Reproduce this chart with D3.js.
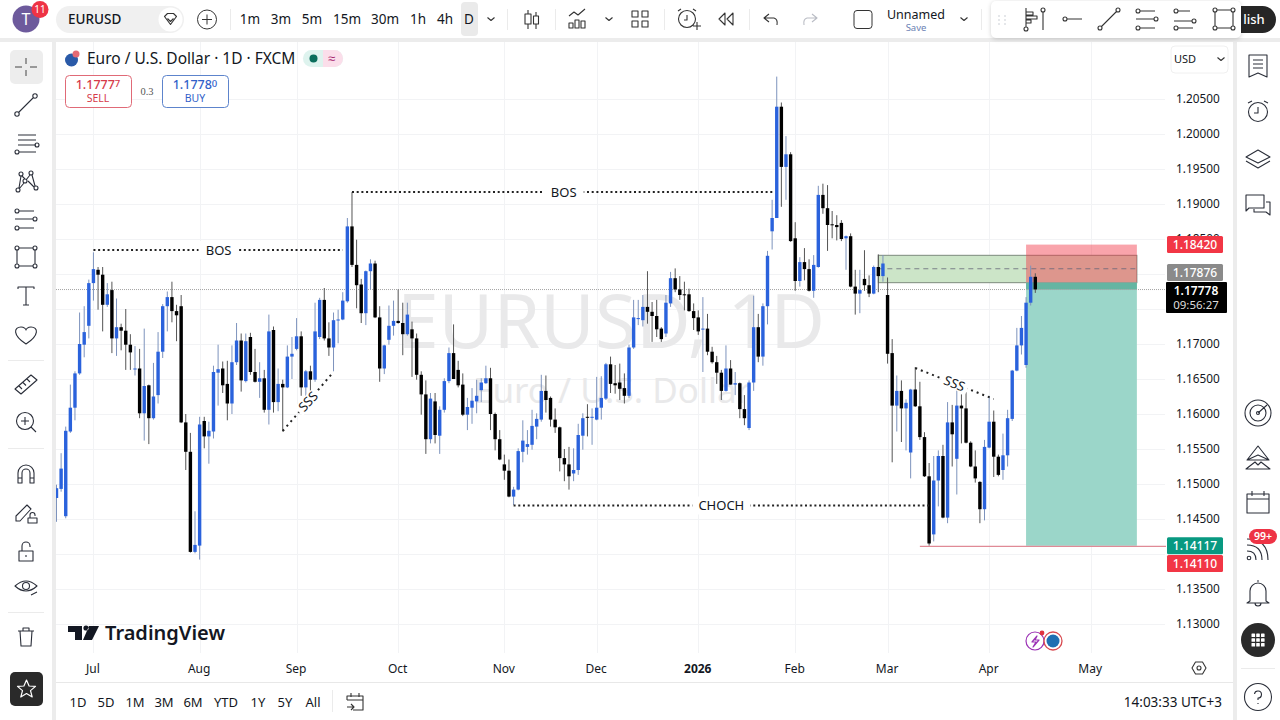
<!DOCTYPE html>
<html>
<head>
<meta charset="utf-8">
<script src="https://cdn.jsdelivr.net/npm/d3@7"></script>
<style>
  html, body { margin: 0; padding: 0; background: #fff; overflow: hidden; }
  svg { display: block; }
  text { font-family: "Noto Sans", sans-serif; fill: #131722; }
</style>
</head>
<body>
<div id="chart"></div>
<script>
// EURUSD daily candles
const opens = [
  1.1480,1.1493,1.1454,1.1575,1.1609,1.1658,1.1699,1.1726,1.1787,1.1806,
  1.1799,1.1756,1.1777,1.1708,1.1724,1.1719,1.1699,1.1664,1.1665,1.1601,
  1.1641,1.1594,1.1627,1.1689,1.1754,1.1767,1.1747,1.1754,1.1588,1.1546,
  1.1403,1.1412,1.1590,1.1568,1.1575,1.1659,1.1665,1.1643,1.1615,1.1674,
  1.1705,1.1647,1.1710,1.1660,1.1646,1.1651,1.1606,1.1720,1.1617,1.1643,
  1.1638,1.1682,1.1693,1.1711,1.1638,1.1661,1.1649,1.1710,1.1763,1.1708,
  1.1695,1.1734,1.1735,1.1761,1.1868,1.1813,1.1785,1.1744,1.1804,1.1815,
  1.1738,1.1665,1.1706,1.1726,1.1733,1.1730,1.1714,1.1721,1.1708,1.1656,
  1.1628,1.1564,1.1618,1.1569,1.1606,1.1647,1.1687,1.1663,1.1642,1.1599,
  1.1609,1.1618,1.1634,1.1644,1.1651,1.1600,1.1564,1.1528,1.1519,1.1482,
  1.1492,1.1546,1.1553,1.1556,1.1582,1.1592,1.1633,1.1623,1.1592,1.1581,
  1.1537,1.1528,1.1515,1.1520,1.1569,1.1596,1.1595,1.1592,1.1609,1.1622,
  1.1671,1.1644,1.1645,1.1637,1.1626,1.1695,1.1736,1.1734,1.1753,1.1746,
  1.1740,1.1722,1.1715,1.1758,1.1794,1.1778,1.1771,1.1771,1.1747,1.1738,
  1.1721,1.1722,1.1689,1.1674,1.1659,1.1633,1.1665,1.1642,1.1644,1.1607,
  1.1580,1.1645,1.1724,1.1682,1.1754,1.1861,1.1880,1.2039,1.1953,1.1971,
  1.1851,1.1790,1.1817,1.1807,1.1776,1.1810,1.1913,1.1894,1.1871,1.1870,
  1.1873,1.1851,1.1854,1.1782,1.1772,1.1793,1.1784,1.1772,1.1810,1.1797,
  1.1770,1.1687,1.1612,1.1633,1.1608,1.1545,1.1635,1.1611,1.1567,1.1511,
  1.1428,1.1505,1.1540,1.1452,1.1588,1.1536,1.1612,1.1608,1.1559,1.1525,
  1.1503,1.1464,1.1552,1.1589,1.1539,1.1520,1.1541,1.1593,1.1662,1.1698,
  1.1670,1.1759,1.1796];
const closes = [
  1.1494,1.1522,1.1576,1.1609,1.1658,1.1700,1.1717,1.1787,1.1807,1.1799,
  1.1756,1.1771,1.1708,1.1724,1.1719,1.1699,1.1688,1.1665,1.1601,1.1640,
  1.1594,1.1625,1.1689,1.1754,1.1767,1.1747,1.1741,1.1588,1.1546,1.1403,
  1.1413,1.1585,1.1568,1.1576,1.1660,1.1664,1.1641,1.1615,1.1674,1.1705,
  1.1648,1.1704,1.1660,1.1646,1.1651,1.1606,1.1718,1.1617,1.1643,1.1638,
  1.1682,1.1686,1.1711,1.1638,1.1661,1.1649,1.1718,1.1763,1.1708,1.1695,
  1.1734,1.1735,1.1762,1.1868,1.1813,1.1784,1.1744,1.1804,1.1815,1.1738,
  1.1665,1.1698,1.1726,1.1733,1.1730,1.1714,1.1742,1.1708,1.1656,1.1628,
  1.1564,1.1622,1.1570,1.1606,1.1647,1.1687,1.1650,1.1641,1.1599,1.1610,
  1.1619,1.1626,1.1645,1.1651,1.1600,1.1564,1.1535,1.1519,1.1482,1.1492,
  1.1547,1.1562,1.1557,1.1583,1.1593,1.1633,1.1620,1.1592,1.1581,1.1537,
  1.1528,1.1511,1.1520,1.1570,1.1594,1.1595,1.1596,1.1609,1.1623,1.1671,
  1.1643,1.1641,1.1636,1.1626,1.1695,1.1738,1.1737,1.1753,1.1746,1.1740,
  1.1721,1.1707,1.1759,1.1794,1.1778,1.1770,1.1770,1.1747,1.1737,1.1718,
  1.1722,1.1689,1.1674,1.1659,1.1633,1.1665,1.1642,1.1644,1.1607,1.1594,
  1.1645,1.1724,1.1682,1.1754,1.1826,1.1880,1.2039,1.1953,1.1971,1.1847,
  1.1790,1.1817,1.1807,1.1776,1.1813,1.1913,1.1894,1.1870,1.1870,1.1867,
  1.1850,1.1854,1.1782,1.1772,1.1777,1.1784,1.1772,1.1810,1.1797,1.1815,
  1.1686,1.1612,1.1633,1.1608,1.1616,1.1635,1.1611,1.1567,1.1511,1.1415,
  1.1505,1.1540,1.1452,1.1588,1.1571,1.1612,1.1608,1.1559,1.1525,1.1508,
  1.1464,1.1553,1.1589,1.1539,1.1513,1.1541,1.1594,1.1662,1.1698,1.1723,
  1.1759,1.1796,1.1778];
const highs = [
  1.1499,1.1544,1.1582,1.1642,1.1661,1.1745,1.1754,1.1792,1.1831,1.1810,
  1.1810,1.1787,1.1789,1.1765,1.1729,1.1750,1.1714,1.1697,1.1693,1.1722,
  1.1642,1.1673,1.1717,1.1757,1.1775,1.1789,1.1756,1.1770,1.1600,1.1573,
  1.1461,1.1596,1.1596,1.1589,1.1669,1.1699,1.1675,1.1676,1.1698,1.1730,
  1.1715,1.1715,1.1716,1.1693,1.1674,1.1663,1.1742,1.1725,1.1665,1.1649,
  1.1698,1.1710,1.1737,1.1718,1.1663,1.1669,1.1759,1.1766,1.1780,1.1731,
  1.1745,1.1749,1.1774,1.1880,1.1917,1.1849,1.1793,1.1805,1.1821,1.1819,
  1.1754,1.1699,1.1755,1.1762,1.1778,1.1759,1.1759,1.1732,1.1715,1.1661,
  1.1648,1.1630,1.1630,1.1611,1.1651,1.1695,1.1728,1.1676,1.1658,1.1623,
  1.1637,1.1649,1.1651,1.1669,1.1666,1.1602,1.1577,1.1542,1.1535,1.1496,
  1.1551,1.1591,1.1577,1.1606,1.1601,1.1656,1.1655,1.1625,1.1608,1.1582,
  1.1550,1.1553,1.1551,1.1586,1.1601,1.1614,1.1608,1.1653,1.1654,1.1673,
  1.1682,1.1670,1.1672,1.1658,1.1699,1.1763,1.1763,1.1770,1.1804,1.1760,
  1.1763,1.1724,1.1770,1.1803,1.1808,1.1797,1.1789,1.1779,1.1758,1.1748,
  1.1767,1.1743,1.1696,1.1683,1.1663,1.1698,1.1677,1.1660,1.1645,1.1627,
  1.1648,1.1769,1.1743,1.1758,1.1833,1.1906,1.2082,1.2045,1.1997,1.1974,
  1.1874,1.1824,1.1837,1.1821,1.1827,1.1926,1.1929,1.1927,1.1890,1.1884,
  1.1877,1.1855,1.1858,1.1806,1.1806,1.1834,1.1798,1.1812,1.1828,1.1827,
  1.1795,1.1707,1.1655,1.1648,1.1621,1.1636,1.1667,1.1646,1.1574,1.1530,
  1.1540,1.1548,1.1556,1.1617,1.1613,1.1635,1.1628,1.1631,1.1561,1.1548,
  1.1504,1.1563,1.1626,1.1605,1.1542,1.1572,1.1606,1.1663,1.1723,1.1740,
  1.1767,1.1812,1.1801];
const lows = [
  1.1446,1.1489,1.1451,1.1573,1.1591,1.1656,1.1681,1.1708,1.1762,1.1749,
  1.1718,1.1753,1.1687,1.1683,1.1691,1.1663,1.1663,1.1655,1.1594,1.1562,
  1.1557,1.1592,1.1615,1.1680,1.1718,1.1731,1.1704,1.1587,1.1520,1.1402,
  1.1401,1.1392,1.1551,1.1529,1.1565,1.1612,1.1630,1.1591,1.1600,1.1670,
  1.1632,1.1645,1.1656,1.1645,1.1623,1.1602,1.1585,1.1602,1.1604,1.1575,
  1.1637,1.1650,1.1691,1.1626,1.1623,1.1632,1.1646,1.1707,1.1705,1.1683,
  1.1661,1.1701,1.1734,1.1759,1.1810,1.1751,1.1730,1.1727,1.1778,1.1737,
  1.1646,1.1657,1.1699,1.1712,1.1729,1.1684,1.1712,1.1653,1.1649,1.1599,
  1.1543,1.1558,1.1558,1.1543,1.1602,1.1644,1.1650,1.1638,1.1597,1.1577,
  1.1586,1.1601,1.1617,1.1643,1.1577,1.1548,1.1534,1.1506,1.1481,1.1470,
  1.1491,1.1531,1.1542,1.1549,1.1564,1.1589,1.1602,1.1582,1.1573,1.1518,
  1.1504,1.1492,1.1504,1.1513,1.1549,1.1568,1.1556,1.1591,1.1592,1.1620,
  1.1630,1.1629,1.1620,1.1615,1.1623,1.1693,1.1727,1.1725,1.1729,1.1703,
  1.1710,1.1703,1.1710,1.1753,1.1774,1.1763,1.1748,1.1746,1.1720,1.1713,
  1.1660,1.1684,1.1672,1.1643,1.1620,1.1632,1.1642,1.1627,1.1594,1.1584,
  1.1577,1.1633,1.1674,1.1669,1.1728,1.1835,1.1880,1.1896,1.1906,1.1846,
  1.1776,1.1782,1.1791,1.1775,1.1766,1.1809,1.1886,1.1833,1.1851,1.1848,
  1.1847,1.1806,1.1781,1.1742,1.1744,1.1776,1.1767,1.1771,1.1774,1.1789,
  1.1672,1.1531,1.1575,1.1560,1.1548,1.1508,1.1610,1.1563,1.1510,1.1412,
  1.1418,1.1468,1.1451,1.1444,1.1525,1.1485,1.1558,1.1558,1.1524,1.1502,
  1.1444,1.1448,1.1551,1.1510,1.1511,1.1506,1.1525,1.1590,1.1661,1.1685,
  1.1666,1.1755,1.1773];

const priceTicks = [1.13,1.135,1.14,1.145,1.15,1.155,1.16,1.165,1.17,1.175,1.18,1.185,1.19,1.195,1.20,1.205];
const hiddenPriceLabels = [1.14, 1.18]; // fully covered by the price tags
const monthBars = [8,31,52,74,97,117,139,160,180,202,224];
const monthLabels = ['Jul','Aug','Sep','Oct','Nov','Dec','2026','Feb','Mar','Apr','May'];
const rangeLabels = ['1D','5D','1M','3M','6M','YTD','1Y','5Y','All'];
const rangeCentres = [78,106,135,164,193,226,258,285,313];
const intervalLabels = ['1m','3m','5m','15m','30m','1h','4h','D'];
const intervalCentres = [250,281,312,347,385,418,445,469];

// price levels of the drawings
const lastPrice = 1.17778, entry = 1.17876, stop = 1.18420, target = 1.14117, lowLine = 1.14110;
const zoneTop = 1.18267, zoneMid = 1.18075;
const bosLines = [[8, 62, 1.18343, 'BOS'], [64, 155.5, 1.19171, 'BOS'], [99, 189, 1.14693, 'CHOCH']];
const sssLines = [[49, 1.15757, 60, 1.16600, -47], [186, 1.16657, 203, 1.16214, 22]];

const W = 1280, H = 720;
const svg = d3.select('#chart').append('svg').attr('width', W).attr('height', H);

const x = d3.scaleLinear().domain([0, 212]).range([56.5, 1035.3]);
const y = d3.scaleLinear().domain([1.13, 1.205]).range([624, 99]);
const fmt = d3.format('.5f');

const rect = (p, x0, y0, w, h, fill, extra = {}) => {
  const r = p.append('rect').attr('x', x0).attr('y', y0).attr('width', w).attr('height', h).attr('fill', fill);
  Object.entries(extra).forEach(([k, v]) => r.attr(k, v));
  return r;
};
const label = (p, x0, y0, s, size, anchor = 'middle', fill = '#131722', weight = 400) =>
  p.append('text').attr('x', x0).attr('y', y0).attr('dy', '.35em').attr('text-anchor', anchor)
    .attr('font-size', size).attr('font-weight', weight).style('fill', fill).text(s);

// page gutters
rect(svg, 0, 0, W, H, '#ececec');
rect(svg, 0, 0, W, 38, '#fff');
rect(svg, 0, 42, 52, H - 42, '#fff');
rect(svg, 56, 42, 1177, H - 42, '#fff');
rect(svg, 1237, 42, 43, H - 42, '#fff');

const pane = svg.append('g');
pane.append('clipPath').attr('id', 'paneClip').append('rect').attr('x', 56).attr('y', 42).attr('width', 1110).attr('height', 611);

// grid
const grid = pane.append('g').attr('stroke', '#f2f3f5').attr('stroke-width', 1);
grid.selectAll('line.h').data(priceTicks).join('line').attr('class', 'h')
  .attr('x1', 56).attr('x2', 1165).attr('y1', d => Math.round(y(d)) + .5).attr('y2', d => Math.round(y(d)) + .5);
grid.selectAll('line.v').data(monthBars).join('line').attr('class', 'v')
  .attr('x1', d => Math.round(x(d)) + .5).attr('x2', d => Math.round(x(d)) + .5).attr('y1', 42).attr('y2', 653);

// watermark
label(pane, 611, 322, 'EURUSD, 1D', 75, 'middle', '#e9e9ea');
label(pane, 612, 391, 'Euro / U.S. Dollar', 35, 'middle', '#e9e9ea');

// zones of the position tool
const zoneX0 = x(178), toolX0 = x(210), toolX1 = x(234);
rect(pane, zoneX0, y(zoneTop), toolX1 - zoneX0, y(entry) - y(zoneTop), '#cce5c8', { stroke: '#7d8a7d', 'stroke-width': 1 });
rect(pane, toolX0, y(stop), toolX1 - toolX0, y(entry) - y(stop), 'rgba(242,54,69,.45)');
rect(pane, toolX0, y(entry), toolX1 - toolX0, y(target) - y(entry), '#9bd6c9');
rect(pane, toolX0, y(entry), toolX1 - toolX0, y(lastPrice) - y(entry), '#65b5a2');
pane.append('line').attr('x1', zoneX0).attr('x2', toolX1).attr('y1', y(zoneMid)).attr('y2', y(zoneMid))
  .attr('stroke', '#667').attr('stroke-width', .8).attr('stroke-dasharray', '5 4');

// last price line and the low line
pane.append('line').attr('x1', 56).attr('x2', 1166).attr('y1', y(lastPrice)).attr('y2', y(lastPrice))
  .attr('stroke', '#a5a5a5').attr('stroke-dasharray', '1 1');
pane.append('line').attr('x1', x(187)).attr('x2', 1166).attr('y1', y(lowLine)).attr('y2', y(lowLine))
  .attr('stroke', '#e08a96').attr('stroke-width', 1.2);

// candles
const candles = opens.map((o, i) => ({ i, o, c: closes[i], h: highs[i], l: lows[i] }));
const isUp = d => d.c >= d.o;
const candleG = pane.append('g').attr('clip-path', 'url(#paneClip)');
candleG.selectAll('line').data(candles).join('line')
  .attr('x1', d => x(d.i)).attr('x2', d => x(d.i)).attr('y1', d => y(d.h)).attr('y2', d => y(d.l))
  .attr('stroke', d => isUp(d) ? '#7d93bd' : '#555').attr('stroke-width', 1);
candleG.selectAll('rect').data(candles).join('rect')
  .attr('x', d => x(d.i) - 1.7).attr('width', 3.4)
  .attr('y', d => y(Math.max(d.o, d.c)))
  .attr('height', d => Math.max(1, Math.abs(y(d.o) - y(d.c))))
  .attr('fill', d => isUp(d) ? '#2a62dc' : '#000');

// BOS / CHOCH lines
bosLines.forEach(([a, b, p, s]) => {
  pane.append('line').attr('x1', x(a)).attr('x2', x(b)).attr('y1', y(p)).attr('y2', y(p))
    .attr('stroke', '#222').attr('stroke-width', 2).attr('stroke-dasharray', '2 2.7');
  const xm = (x(a) + x(b)) / 2 + (s === 'BOS' ? .5 : 0);
  const gap = s === 'CHOCH' ? 58 : 40;
  rect(pane, xm - gap / 2, y(p) - 9, gap, 18, '#fff');
  label(pane, xm, y(p), s, 13);
});
sssLines.forEach(([a, p, b, q, rot]) => {
  pane.append('line').attr('x1', x(a)).attr('x2', x(b)).attr('y1', y(p)).attr('y2', y(q))
    .attr('stroke', '#222').attr('stroke-width', 2).attr('stroke-dasharray', '2 4');
  const xm = (x(a) + x(b)) / 2, ym = (y(p) + y(q)) / 2;
  rect(pane, xm - 14, ym - 6, 28, 12, '#fff', { transform: `rotate(${rot} ${xm} ${ym})` });
  label(pane, 0, 0, 'SSS', 13).attr('transform', `translate(${xm},${ym}) rotate(${rot})`);
});

// price axis
const priceAxis = svg.append('g').attr('transform', 'translate(1165,0)')
  .call(d3.axisRight(y).tickValues(priceTicks.filter(d => !hiddenPriceLabels.includes(d)))
    .tickFormat(fmt).tickSize(0).tickPadding(11));
priceAxis.select('.domain').remove();
priceAxis.selectAll('text').attr('font-size', 11.8).attr('font-family', '"Noto Sans", sans-serif').style('fill', '#131722');
priceAxis.selectAll('.tick').attr('transform', d => `translate(0,${y(d) + .5})`);

// time axis
const timeAxis = svg.append('g').attr('transform', 'translate(-1,664)')
  .call(d3.axisBottom(x).tickValues(monthBars).tickFormat((d, i) => monthLabels[i]).tickSize(0).tickPadding(0));
timeAxis.select('.domain').remove();
timeAxis.selectAll('text').attr('font-size', 12).attr('dy', '.71em').attr('font-family', '"Noto Sans", sans-serif')
  .style('fill', '#131722').attr('font-weight', (d, i) => monthLabels[i] === '2026' ? 700 : 400);
svg.append('line').attr('x1', 56).attr('x2', 1233).attr('y1', 682.5).attr('y2', 682.5).attr('stroke', '#e8e8e8');

// price tags
const tag = (cy, fill, s) => {
  rect(svg, 1167, cy - 8.5, 56, 17, fill, { rx: 1.5 });
  label(svg, 1195, cy, s, 12, 'middle', '#fff', 500);
};
tag(y(stop), '#f23645', fmt(stop));
tag(272.5, '#8a8a8a', fmt(entry));
tag(y(target), '#089981', fmt(target));
tag(563.5, '#f23645', fmt(lowLine));
rect(svg, 1166, 282, 61, 31, '#000', { rx: 1 });
label(svg, 1196, 290.5, fmt(lastPrice), 12, 'middle', '#fff', 600);
label(svg, 1196, 304.5, '09:56:27', 11.5, 'middle', '#ddd');

// ---- chrome ----
const ring = (cx, cy, r) => `M${cx - r},${cy}a${r},${r} 0 1,0 ${2 * r},0a${r},${r} 0 1,0 ${-2 * r},0`;
const icon = (cx, cy, d, stroke = '#2a2e39', sw = 1.1) =>
  svg.append('path').attr('transform', `translate(${cx},${cy})`).attr('d', d)
    .attr('fill', 'none').attr('stroke', stroke).attr('stroke-width', sw).attr('stroke-linejoin', 'round');
const sep = (x1, y1, x2, y2) => svg.append('line').attr('x1', x1).attr('y1', y1).attr('x2', x2).attr('y2', y2).attr('stroke', '#ebebeb');
const chevron = (cx, cy) => icon(cx, cy, 'M-3.5,-1.5L0,1.5L3.5,-1.5', '#333', 1.1);

// top bar
svg.append('circle').attr('cx', 26).attr('cy', 19).attr('r', 13.5).attr('fill', '#6d5a9c');
label(svg, 26, 19, 'T', 16, 'middle', '#fff');
svg.append('circle').attr('cx', 40).attr('cy', 9.5).attr('r', 8.5).attr('fill', '#ee3345');
label(svg, 40, 9.5, '11', 10, 'middle', '#fff');
rect(svg, 56, 6, 128, 27, '#f0f0f0', { rx: 13.5 });
label(svg, 68, 19.5, 'EURUSD', 13.5, 'start', '#131722', 500);
svg.append('circle').attr('cx', 170.5).attr('cy', 19.5).attr('r', 12).attr('fill', '#fff');
icon(170.5, 19.5, 'M-6,-3L-3,-6L3,-6L6,-3L0,5ZM-3,-1L0,2L3,-1', '#333', 1.1);
icon(207, 19.5, ring(0, 0, 9.5) + 'M-5,0L5,0M0,-5L0,5', '#333', 1);
sep(230.5, 9, 230.5, 30);
rect(svg, 461, 2, 17, 34, '#eaeaea', { rx: 4 });
intervalLabels.forEach((s, i) => label(svg, intervalCentres[i], 19.5, s, 13.5));
chevron(491, 19);
sep(507.5, 9, 507.5, 30);
icon(532, 19, 'M-4,-9L-4,-5M-7,-5h6v10h-6zM-4,5L-4,10M4,-7L4,-3M1.5,-3h5v8h-5zM4,5L4,10', '#333');
sep(555.5, 9, 555.5, 30);
icon(578, 19, 'M-9,-3L-4,-7L0,-4L7,-10M-9,9v-5h4v5zM-3,9v-8h4v8zM3,9v-7h4v7z', '#333');
chevron(609, 19);
icon(640, 19, 'M-8,-8h6v6h-6zM2,-8h6v6h-6zM-8,2h6v6h-6zM2,2h6v6h-6z', '#333');
sep(664.5, 9, 664.5, 30);
icon(687, 19, ring(0, 0, 8.5) + 'M0,-4L0,1L-3,1M-9,-8L-6,-10M9,-8L6,-10M6,7h8M10,3v8', '#333');
icon(726, 19, 'M-1,-6L-7,0L-1,6ZM7,-6L1,0L7,6Z', '#333');
sep(749.5, 9, 749.5, 30);
icon(771, 19, 'M-2,-5L-7,-1L-2,3M-7,-1L3,-1Q7,0 6,6', '#333');
icon(810, 19, 'M2,-5L7,-1L2,3M7,-1L-3,-1Q-7,0 -6,6', '#b9bcc4');
rect(svg, 854, 10.5, 18, 18, 'none', { stroke: '#333', rx: 3 });
label(svg, 916, 15, 'Unnamed', 12.5);
label(svg, 916, 28, 'Save', 9.5, 'middle', '#6a7fb3');
chevron(964, 19);
sep(981.5, 9, 981.5, 30);

// floating drawings toolbar
rect(svg, 1222, 6, 54, 27, '#262626', { rx: 13.5 });
label(svg, 1254, 19.5, 'lish', 13, 'middle', '#fff', 500);
rect(svg, 991, 1, 250, 37, '#fff', { rx: 5, style: 'filter:drop-shadow(0 1px 2px rgba(0,0,0,.18))' });
svg.append('g').attr('fill', '#c5c8cf').selectAll('circle').data([[999, 16], [1005, 16], [999, 20], [1005, 20], [999, 24], [1005, 24]])
  .join('circle').attr('cx', d => d[0]).attr('cy', d => d[1]).attr('r', .8);
icon(1026, 19, ring(0, 10, 2) + 'M0,-11L0,8M0,-7h7v3h-7M0,-3h11v3h-11M0,1h5v3h-5', '#333');
icon(1043, 19, ring(0, -9, 2) + 'M0,-7L0,11', '#333');
icon(1072, 19, ring(-7, 0, 2) + 'M-5,0L10,0', '#333');
icon(1109, 19, ring(-9, 9, 2) + 'M-7.5,7.5L7.5,-7.5' + ring(9, -9, 2), '#333');
icon(1147, 19, ring(-9, -8, 2) + 'M-7,-8h15' + ring(9, 0, 2) + 'M-11,0h18' + ring(-9, 9, 2) + 'M-7,9h15', '#333');
icon(1185, 19, ring(-9, -8, 2) + 'M-7,-8h12' + ring(9, 2, 2) + 'M-11,2h18' + ring(-9, 9, 2) + 'M-7,9h15', '#333');
icon(1224, 19, ring(-9, -9, 2) + ring(9, -9, 2) + ring(-9, 9, 2) + ring(9, 9, 2) + 'M-7,-9h14M-7,9h14M-9,-7v14M9,-7v14', '#333');

// legend
svg.append('circle').attr('cx', 71.5).attr('cy', 60).attr('r', 6.5).attr('fill', '#2a5aa8');
svg.append('circle').attr('cx', 76).attr('cy', 54).attr('r', 3.5).attr('fill', '#e46a74');
label(svg, 87, 59, 'Euro / U.S. Dollar · 1D · FXCM', 15.5, 'start');
rect(svg, 303, 50, 40, 17, '#def3ee', { rx: 8.5 });
svg.append('path').attr('d', 'M323,50h11.5a8.5,8.5 0 0 1 0,17h-11.5z').attr('fill', '#fbdeea');
svg.append('circle').attr('cx', 313.5).attr('cy', 58.5).attr('r', 4).attr('fill', '#0a6e5c');
label(svg, 331.5, 58, '≈', 13, 'middle', '#a6246d');
rect(svg, 65.5, 75.5, 66, 32, '#fff', { stroke: '#e06a77', rx: 4 });
label(svg, 98, 85, '1.1777', 12.5, 'middle', '#d63a4a', 500).append('tspan').attr('font-size', 9.5).attr('dy', '-2').text('7');
label(svg, 98, 98, 'SELL', 10.5, 'middle', '#d63a4a');
label(svg, 147, 91, '0.3', 10.5, 'middle', '#555').style('font-family', '"Liberation Serif", serif');
rect(svg, 162.5, 75.5, 66, 32, '#fff', { stroke: '#5d84cc', rx: 4 });
label(svg, 195, 85, '1.1778', 12.5, 'middle', '#3161c9', 500).append('tspan').attr('font-size', 9.5).attr('dy', '-2').text('0');
label(svg, 195, 98, 'BUY', 10.5, 'middle', '#3161c9');

// currency selector
rect(svg, 1171, 46, 57, 27, '#fff', { stroke: '#f0f0f0', rx: 4 });
label(svg, 1174, 59, 'USD', 11, 'start');
chevron(1221, 59);

// left toolbar
rect(svg, 10, 50, 33, 34, '#ededed', { rx: 5 });
icon(26, 67, 'M0,-9L0,-3M0,3L0,9M-11,0L-4,0M4,0L11,0', '#444', 1);
icon(26, 105, ring(-9, 9, 2.2) + 'M-7.5,7.5L7.5,-7.5' + ring(9, -9, 2.2));
icon(26, 144, 'M-8,-9h18M-8,-4h18M-8,1h18' + ring(-9, 8, 2) + 'M-7,8h17' + ring(11, 1, 2));
icon(26, 181, ring(-8, 9, 2) + ring(-5, -7, 2) + ring(-1, 0, 2) + ring(5, -8, 2) + ring(10, 7, 2) + 'M-7,7L-5,-5M-4,-5L-1,-2M-7,8L-2,2M0,-1L4,-6M2,0L8,6M6,-6L9,5');
icon(26, 219, ring(-9, -8, 2) + 'M-7,-8h15' + ring(9, 0, 2) + 'M-11,0h18' + ring(-9, 9, 2) + 'M-7,9h15');
icon(26, 257, ring(-9, -9, 2) + ring(9, -9, 2) + ring(-9, 9, 2) + ring(9, 9, 2) + 'M-7,-9h14M-7,9h14M-9,-7v14M9,-7v14');
icon(26, 296, 'M-8,-7L-8,-9L8,-9L8,-7M0,-9L0,9M-3,9L3,9');
icon(26, 335, 'M0,9C-14,0 -12,-8 -5,-8C-2,-8 0,-6 0,-5C0,-6 2,-8 5,-8C12,-8 14,0 0,9Z');
sep(8, 360.5, 44, 360.5);
icon(26, 384, 'M-11,5L5,-9L11,-4L-5,10ZM-7,2L-4,5M-3,-1.5L-0,1.5M1,-5L4,-2', '#2a2e39');
icon(26, 422, ring(-1, -1, 8.5) + 'M5,5L10,10M-5,-1h8M-1,-5v8');
sep(8, 448.5, 44, 448.5);
icon(26, 474, 'M-8,9V-1A8,8 0 0 1 8,-1V9H4V-1A4,4 0 0 0 -4,-1V9ZM-8,4H-4M4,4H8');
icon(26, 513, 'M-10,8L-10,3L1,-8L5,-4L-6,8ZM2,10v-5h9v5zM4,5v-3a2.5,2.5 0 0 1 5,0v1');
icon(26, 551, 'M-7,10V0H7V10ZM-4,0V-5A4,4 0 0 1 4,-5V-4M0,4v2');
icon(26, 586, 'M-11,0Q0,-10 11,0Q0,10 -11,0Z' + ring(0, 0, 3.5) + 'M5,9L11,6');
sep(8, 612.5, 44, 612.5);
icon(26, 637, 'M-8,-6h16M-6,-6L-5,9H5L6,-6M-3,-6V-9H3V-6');
rect(svg, 10, 672, 33, 34, '#2a2a2a', { rx: 5 });
icon(26.5, 689, 'M0,-9L2.6,-3L9,-2.6L4,1.6L5.7,8L0,4.5L-5.7,8L-4,1.6L-9,-2.6L-2.6,-3Z', '#fff', 1.2);

// right toolbar
icon(1258, 66, 'M-9,-11H9V11L0,7L-9,11ZM-5,-6H5M-5,-2H5M-5,2H5');
icon(1258, 111, ring(0, 1, 9.5) + 'M0,-4V2H-4M-10,-8L-6,-10M10,-8L6,-10');
icon(1258, 158, 'M0,-8L12,-1L0,5L-12,-1ZM-12,3L0,10L12,3');
icon(1258, 205, 'M-12,-10H6V3H-9L-12,6ZM8,-3H12V10L8,7H-4V4');
icon(1258, 413, ring(0, 0, 13) + ring(0, 0, 8) + ring(0, 0, 1.5) + 'M0,0L9,-8');
icon(1258, 458, 'M0,-12L11,2H-11ZM-11,2L0,-3L11,2M-12,11L-3,4L0,7L3,4L12,11Z');
icon(1258, 502, 'M-11,-8H11V11H-11ZM-11,-3H11M-6,-11V-6M6,-11V-6');
icon(1258, 548, ring(-9, 10, 1.8) + 'M-11,3Q-2,3 -2,12M-11,-3Q4,-3 4,12M-11,-9Q10,-9 10,12');
rect(svg, 1249, 529, 28, 15, '#ee3345', { rx: 7.5 });
label(svg, 1263, 536.5, '99+', 10.5, 'middle', '#fff', 600);
icon(1258, 593, 'M-8,8V-2A8,8 0 0 1 8,-2V8L11,10H-11ZM-3,10A3,3 0 0 0 3,10M-1,-12H1');
svg.append('circle').attr('cx', 1258).attr('cy', 640).attr('r', 17).attr('fill', '#2a2a2a');
svg.append('g').attr('fill', '#fff').selectAll('rect')
  .data(d3.cross([-6.5, -1.8, 3], [-6.5, -1.8, 3])).join('rect')
  .attr('x', d => 1258 + d[0]).attr('y', d => 640 + d[1]).attr('width', 3.6).attr('height', 3.6).attr('rx', .6);
sep(1241, 668.5, 1275, 668.5);
icon(1258, 697, ring(0, 0, 13.5) + 'M-3.5,-3A3.5,3.5 0 1 1 0,1V3M0,6V7');

// bottom bar
rangeLabels.forEach((s, i) => label(svg, rangeCentres[i], 702, s, 13));
sep(332.5, 690, 332.5, 712);
icon(355, 702, 'M-8,-2V-6H8V8H-2M-8,-2H8M-4,-9V-5M4,-9V-5M-8,5H-1M-4,2L-1,5L-4,8', '#333');
label(svg, 1222, 702, '14:03:33 UTC+3', 13.5, 'end');
icon(1199, 668, 'M-7,0L-3.5,-6H3.5L7,0L3.5,6H-3.5Z' + ring(0, 0, 2), '#333');

// logo
svg.append('path').attr('fill', '#131722')
  .attr('d', 'M68,626H82V640H75V632H68ZM89,626H99L92,640H83Z' + ring(86, 628, 2.6));
label(svg, 105, 633, 'TradingView', 20, 'start', '#131722', 600);

// small badges by the time axis
icon(1035, 641, ring(0, 0, 9) + 'M2,-5L-3,1H1L-2,6L4,-1H0Z', '#9b31b5', 1.2);
svg.append('circle').attr('cx', 1053).attr('cy', 641).attr('r', 9).attr('fill', '#fff').attr('stroke', '#d84a50').attr('stroke-width', 1.3);
svg.append('circle').attr('cx', 1053).attr('cy', 641).attr('r', 6.5).attr('fill', '#1f6fb2');
svg.append('circle').attr('cx', 1042).attr('cy', 633).attr('r', 2.4).attr('fill', '#e0333f');
</script>
</body>
</html>
